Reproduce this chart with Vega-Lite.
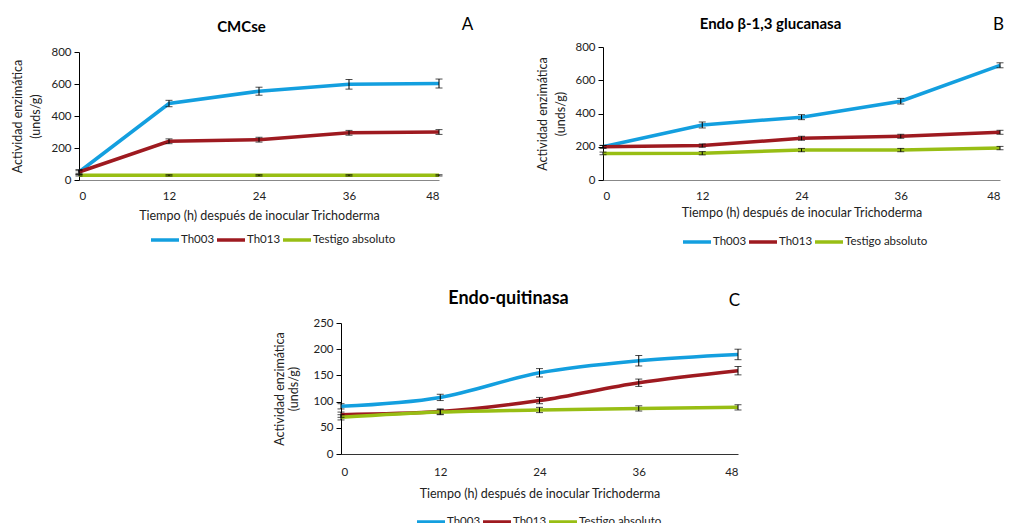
{
  "$schema": "https://vega.github.io/schema/vega-lite/v6.json",
  "padding": {"left": 11, "top": 15, "right": 0, "bottom": 0},
  "data": {"values": [
    {"p": "A", "t": 0, "s": "Th003", "v": 50, "e": 8},
    {"p": "A", "t": 12, "s": "Th003", "v": 478, "e": 20},
    {"p": "A", "t": 24, "s": "Th003", "v": 555, "e": 25},
    {"p": "A", "t": 36, "s": "Th003", "v": 598, "e": 30},
    {"p": "A", "t": 48, "s": "Th003", "v": 603, "e": 28},
    {"p": "A", "t": 0, "s": "Th013", "v": 50, "e": 15},
    {"p": "A", "t": 12, "s": "Th013", "v": 242, "e": 15},
    {"p": "A", "t": 24, "s": "Th013", "v": 252, "e": 15},
    {"p": "A", "t": 36, "s": "Th013", "v": 295, "e": 15},
    {"p": "A", "t": 48, "s": "Th013", "v": 300, "e": 15},
    {"p": "A", "t": 0, "s": "Testigo absoluto", "v": 29, "e": 4},
    {"p": "A", "t": 12, "s": "Testigo absoluto", "v": 29, "e": 4},
    {"p": "A", "t": 24, "s": "Testigo absoluto", "v": 29, "e": 4},
    {"p": "A", "t": 36, "s": "Testigo absoluto", "v": 29, "e": 4},
    {"p": "A", "t": 48, "s": "Testigo absoluto", "v": 29, "e": 4},
    {"p": "B", "t": 0, "s": "Th003", "v": 200, "e": 8},
    {"p": "B", "t": 12, "s": "Th003", "v": 331, "e": 18},
    {"p": "B", "t": 24, "s": "Th003", "v": 378, "e": 15},
    {"p": "B", "t": 36, "s": "Th003", "v": 474, "e": 17},
    {"p": "B", "t": 48, "s": "Th003", "v": 690, "e": 15},
    {"p": "B", "t": 0, "s": "Th013", "v": 200, "e": 8},
    {"p": "B", "t": 12, "s": "Th013", "v": 207, "e": 10},
    {"p": "B", "t": 24, "s": "Th013", "v": 251, "e": 12},
    {"p": "B", "t": 36, "s": "Th013", "v": 263, "e": 12},
    {"p": "B", "t": 48, "s": "Th013", "v": 287, "e": 12},
    {"p": "B", "t": 0, "s": "Testigo absoluto", "v": 160, "e": 8},
    {"p": "B", "t": 12, "s": "Testigo absoluto", "v": 161, "e": 10},
    {"p": "B", "t": 24, "s": "Testigo absoluto", "v": 180, "e": 10},
    {"p": "B", "t": 36, "s": "Testigo absoluto", "v": 180, "e": 10},
    {"p": "B", "t": 48, "s": "Testigo absoluto", "v": 192, "e": 10},
    {"p": "C", "t": 0, "s": "Th003", "v": 91, "e": 5},
    {"p": "C", "t": 12, "s": "Th003", "v": 108, "e": 6},
    {"p": "C", "t": 24, "s": "Th003", "v": 155, "e": 8},
    {"p": "C", "t": 36, "s": "Th003", "v": 178, "e": 10},
    {"p": "C", "t": 48, "s": "Th003", "v": 190, "e": 10},
    {"p": "C", "t": 0, "s": "Th013", "v": 75, "e": 5},
    {"p": "C", "t": 12, "s": "Th013", "v": 81, "e": 5},
    {"p": "C", "t": 24, "s": "Th013", "v": 102, "e": 6},
    {"p": "C", "t": 36, "s": "Th013", "v": 136, "e": 7},
    {"p": "C", "t": 48, "s": "Th013", "v": 159, "e": 8},
    {"p": "C", "t": 0, "s": "Testigo absoluto", "v": 70, "e": 5},
    {"p": "C", "t": 12, "s": "Testigo absoluto", "v": 80, "e": 5},
    {"p": "C", "t": 24, "s": "Testigo absoluto", "v": 84, "e": 5},
    {"p": "C", "t": 36, "s": "Testigo absoluto", "v": 87, "e": 5},
    {"p": "C", "t": 48, "s": "Testigo absoluto", "v": 89, "e": 5}
  ]},
  "config": {
    "font": "Lato",
    "view": {"stroke": null},
    "axis": {"grid": false, "labelFont": "Lato", "labelFontSize": 11.5, "labelColor": "#222", "titleFont": "Lato", "titleFontWeight": "normal", "titleFontSize": 12.5, "titleColor": "#222"},
    "legend": {"orient": "none", "direction": "horizontal", "padding": 0, "symbolType": "stroke", "symbolSize": 784, "symbolStrokeWidth": 3.5, "labelFont": "Lato", "labelFontSize": 11.5, "labelColor": "#222", "columnPadding": -5, "labelOffset": 0}
  },
  "center": true,
  "spacing": 40,
  "resolve": {"scale": {"color": "independent"}, "legend": {"color": "independent"}},
  "vconcat": [
    {
      "spacing": 63,
      "resolve": {"scale": {"color": "independent"}, "legend": {"color": "independent"}},
      "hconcat": [
        {
          "width": 360, "height": 133,
          "transform": [{"filter": "datum.p === 'A'"}],
          "layer": [
            {"mark": {"type": "line", "strokeWidth": 3.5},
             "encoding": {
               "x": {"field": "t", "type": "quantitative", "scale": {"domain": [0, 48], "nice": false}, "axis": {"orient": "bottom", "values": [0, 12, 24, 36, 48], "ticks": false, "tickSize": 0, "labelPadding": 10, "domainColor": "#888", "title": "Tiempo (h) después de inocular Trichoderma", "titlePadding": 8}},
               "y": {"field": "v", "type": "quantitative", "scale": {"domain": [0, 800], "nice": false, "range": [133, 5]}, "axis": {"orient": "left", "values": [0, 200, 400, 600, 800], "tickSize": 5, "tickColor": "#000", "domainColor": "#000", "labelPadding": 3, "title": ["Actividad enzimática", "(unds/g)"], "titleLineHeight": 18, "titlePadding": 8}},
               "color": {"field": "s", "type": "nominal", "scale": {"domain": ["Th003", "Th013", "Testigo absoluto"], "range": ["#139FDF", "#9E1A20", "#98BE14"]}, "legend": {"title": null, "legendX": 70, "legendY": 177}}
             }},
            {"mark": {"type": "errorbar", "ticks": true, "size": 7, "thickness": 1, "color": "#000"},
             "encoding": {
               "x": {"field": "t", "type": "quantitative", "scale": {"domain": [0, 48], "nice": false}, "axis": {"orient": "top", "domain": false, "ticks": false, "labels": false, "title": "CMCse", "titleFontSize": 15, "titleFontWeight": "bold", "titleColor": "#000", "titleX": 162, "titleY": -21, "titleBaseline": "middle", "titleAlign": "center"}},
               "y": {"field": "v", "type": "quantitative", "scale": {"domain": [0, 800], "nice": false, "range": [133, 5]}, "axis": {"orient": "right", "domain": false, "ticks": false, "labels": false, "title": "A", "titleAngle": 0, "titleFontSize": 17, "titleColor": "#000", "titleX": 28, "titleY": -23, "titleBaseline": "middle", "titleAlign": "center"}},
               "yError": {"field": "e"}
             }}
          ],
          "resolve": {"axis": {"x": "independent", "y": "independent"}}
        },
        {
          "width": 397, "height": 133,
          "transform": [{"filter": "datum.p === 'B'"}],
          "layer": [
            {"mark": {"type": "line", "strokeWidth": 3.5},
             "encoding": {
               "x": {"field": "t", "type": "quantitative", "scale": {"domain": [0, 48], "nice": false}, "axis": {"orient": "bottom", "values": [0, 12, 24, 36, 48], "ticks": false, "tickSize": 0, "labelPadding": 10, "domainColor": "#888", "title": "Tiempo (h) después de inocular Trichoderma", "titlePadding": 5}},
               "y": {"field": "v", "type": "quantitative", "scale": {"domain": [0, 800], "nice": false}, "axis": {"orient": "left", "values": [0, 200, 400, 600, 800], "tickSize": 5, "tickColor": "#000", "domainColor": "#000", "labelPadding": 3, "title": ["Actividad enzimática", "(unds/g)"], "titleLineHeight": 18, "titlePadding": 7}},
               "color": {"field": "s", "type": "nominal", "scale": {"domain": ["Th003", "Th013", "Testigo absoluto"], "range": ["#139FDF", "#9E1A20", "#98BE14"]}, "legend": {"title": null, "legendX": 78, "legendY": 179}}
             }},
            {"mark": {"type": "errorbar", "ticks": true, "size": 7, "thickness": 1, "color": "#000"},
             "encoding": {
               "x": {"field": "t", "type": "quantitative", "scale": {"domain": [0, 48], "nice": false}, "axis": {"orient": "top", "domain": false, "ticks": false, "labels": false, "title": "Endo β-1,3 glucanasa", "titleFontSize": 15, "titleFontWeight": "bold", "titleColor": "#000", "titleX": 167, "titleY": -24, "titleBaseline": "middle", "titleAlign": "center"}},
               "y": {"field": "v", "type": "quantitative", "scale": {"domain": [0, 800], "nice": false}, "axis": {"orient": "right", "domain": false, "ticks": false, "labels": false, "title": "B", "titleAngle": 0, "titleFontSize": 17, "titleColor": "#000", "titleX": -2, "titleY": -23, "titleBaseline": "middle", "titleAlign": "center"}},
               "yError": {"field": "e"}
             }}
          ],
          "resolve": {"axis": {"x": "independent", "y": "independent"}}
        }
      ]
    },
    {
      "width": 397, "height": 131,
      "transform": [{"filter": "datum.p === 'C'"}],
      "layer": [
        {"mark": {"type": "line", "strokeWidth": 3.5, "interpolate": "monotone"},
         "encoding": {
           "x": {"field": "t", "type": "quantitative", "scale": {"domain": [0, 48], "nice": false}, "axis": {"orient": "bottom", "values": [0, 12, 24, 36, 48], "ticks": false, "tickSize": 0, "labelPadding": 12, "domainColor": "#333", "title": "Tiempo (h) después de inocular Trichoderma", "titlePadding": 10}},
           "y": {"field": "v", "type": "quantitative", "scale": {"domain": [0, 250], "nice": false}, "axis": {"orient": "left", "values": [0, 50, 100, 150, 200, 250], "tickSize": 5, "tickColor": "#000", "domainColor": "#000", "labelPadding": 3, "title": ["Actividad enzimática", "(unds/g)"], "titleLineHeight": 14, "titlePadding": 12}},
           "color": {"field": "s", "type": "nominal", "scale": {"domain": ["Th003", "Th013", "Testigo absoluto"], "range": ["#139FDF", "#9E1A20", "#98BE14"]}, "legend": {"title": null, "legendX": 74, "legendY": 183}}
         }},
        {"mark": {"type": "errorbar", "ticks": true, "size": 7, "thickness": 1, "color": "#000"},
         "encoding": {
           "x": {"field": "t", "type": "quantitative", "scale": {"domain": [0, 48], "nice": false}, "axis": {"orient": "top", "domain": false, "ticks": false, "labels": false, "title": "Endo-quitinasa", "titleFontSize": 18, "titleFontWeight": "bold", "titleColor": "#000", "titleX": 167, "titleY": -25, "titleBaseline": "middle", "titleAlign": "center"}},
           "y": {"field": "v", "type": "quantitative", "scale": {"domain": [0, 250], "nice": false}, "axis": {"orient": "right", "domain": false, "ticks": false, "labels": false, "title": "C", "titleAngle": 0, "titleFontSize": 17, "titleColor": "#000", "titleX": -4, "titleY": -23, "titleBaseline": "middle", "titleAlign": "center"}},
           "yError": {"field": "e"}
         }}
      ],
      "resolve": {"axis": {"x": "independent", "y": "independent"}}
    }
  ]
}
